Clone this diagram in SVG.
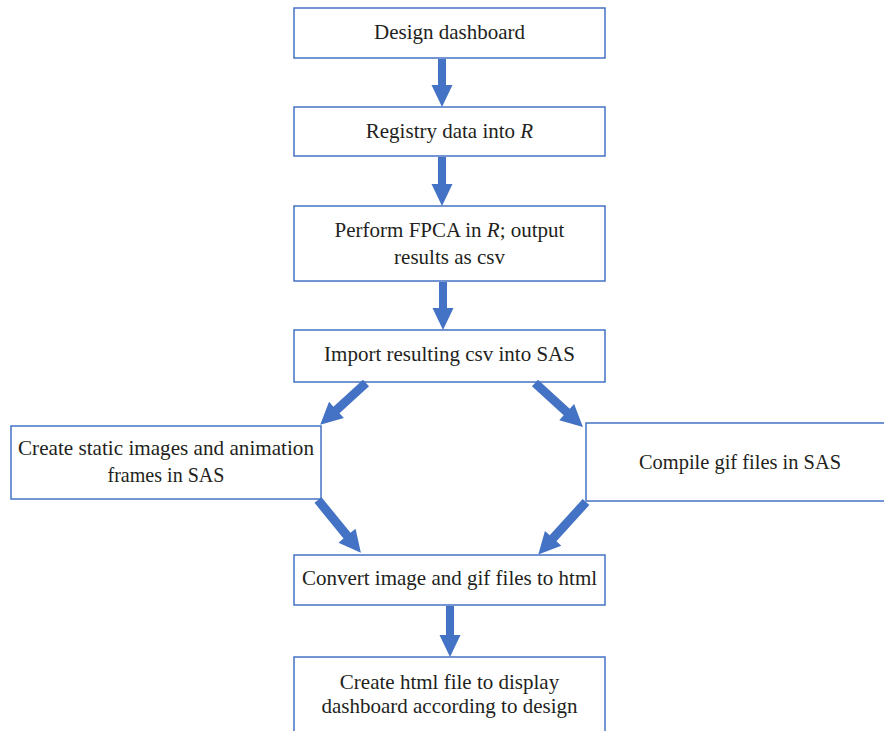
<svg xmlns="http://www.w3.org/2000/svg" width="884" height="731" viewBox="0 0 884 731">
<style>
.box{fill:#fff;stroke:#4472C4;stroke-width:1.5}
.t{font-family:"Liberation Serif","Times New Roman",serif;font-size:21px;fill:#231f20;text-anchor:middle}
.arr{fill:#4472C4}
</style>
<rect width="884" height="731" fill="#fff"/>
<g id="n1"><rect class="box" x="294" y="8" width="311" height="50"/><text class="t" x="449.5" y="39">Design dashboard</text></g>
<g id="n2"><rect class="box" x="294" y="107" width="311" height="49"/><text class="t" x="449.5" y="138">Registry data into <tspan font-style="italic">R</tspan></text></g>
<g id="n3"><rect class="box" x="294" y="206" width="311" height="75"/><text class="t" x="449.5" y="237">Perform FPCA in <tspan font-style="italic">R</tspan>; output</text><text class="t" x="449.5" y="264">results as csv</text></g>
<g id="n4"><rect class="box" x="294" y="330" width="311" height="52"/><text class="t" x="449.5" y="361">Import resulting csv into SAS</text></g>
<g id="n5"><rect class="box" x="11" y="426" width="310" height="73"/><text class="t" x="166" y="455" textLength="296" lengthAdjust="spacingAndGlyphs">Create static images and animation</text><text class="t" x="166" y="482" textLength="117" lengthAdjust="spacingAndGlyphs">frames in SAS</text></g>
<g id="n6"><rect class="box" x="586" y="423" width="300" height="78"/><text class="t" x="740" y="469" textLength="202" lengthAdjust="spacingAndGlyphs">Compile gif files in SAS</text></g>
<g id="n7"><rect class="box" x="294" y="555" width="311" height="50"/><text class="t" x="449.5" y="585">Convert image and gif files to html</text></g>
<g id="n8"><rect class="box" x="294" y="657" width="311" height="90"/><text class="t" x="449.5" y="689">Create html file to display</text><text class="t" x="449.5" y="713">dashboard according to design</text></g>
<g id="connectors" class="arr">
<polygon points="438,59 446,59 446,85 452.5,85 442,107 431.5,85 438,85"/>
<polygon points="438,157 446,157 446,184 452.5,184 442,206 431.5,184 438,184"/>
<polygon points="439,282 447,282 447,308 453.5,308 443,330 432.5,308 439,308"/>
<polygon points="446,606 454,606 454,635 460.5,635 450,657 439.5,635 446,635"/>
<g transform="translate(366,383) rotate(47.6)"><polygon points="-4.5,0 4.5,0 4.5,40 11,40 0,62 -11,40 -4.5,40"/></g>
<g transform="translate(535,383) rotate(-47.5)"><polygon points="-4.5,0 4.5,0 4.5,43 11,43 0,65 -11,43 -4.5,43"/></g>
<g transform="translate(318,500) rotate(-39.1)"><polygon points="-4.5,0 4.5,0 4.5,46 11,46 0,68 -11,46 -4.5,46"/></g>
<g transform="translate(586,502) rotate(42.2)"><polygon points="-4.5,0 4.5,0 4.5,49 11,49 0,71 -11,49 -4.5,49"/></g>
</g>
</svg>
